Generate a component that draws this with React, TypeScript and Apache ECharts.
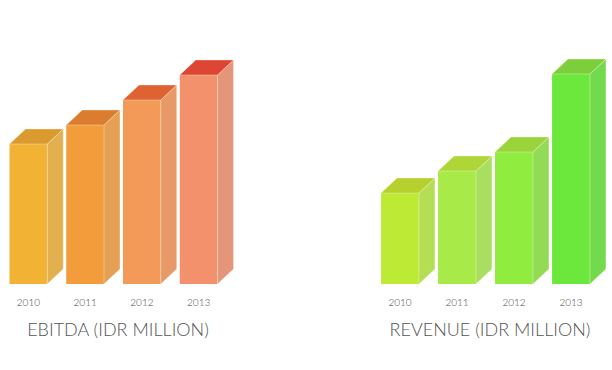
import React, { useEffect, useRef } from "react";
import * as echarts from "echarts";

const years = ["2010", "2011", "2012", "2013"];
const ebitda = [140, 159, 184, 209];
const revenue = [91, 113, 132, 210];

const ebitdaFront = ["#F2B335", "#F39C3B", "#F39A58", "#F3916C"];
const ebitdaSide = ["#E3B04F", "#E5A055", "#E79A67", "#E4957A"];
const ebitdaTop = ["#DB9A2E", "#DB7D31", "#DF6232", "#DE4535"];
const revenueFront = ["#BDEB35", "#A8EB48", "#90EC3E", "#6CE83C"];
const revenueSide = ["#B6DE55", "#A9DF60", "#92DC55", "#72DB4D"];
const revenueTop = ["#B6D02D", "#AED638", "#98D43A", "#7CCF3B"];

const titles = ["EBITDA (IDR MILLION)", "REVENUE (IDR MILLION)"];

function make3dRenderer(front: string[], side: string[], top: string[]) {
  return (params: any, api: any) => {
    const idx = params.dataIndex;
    const topPt = api.coord([api.value(0), api.value(1)]);
    const basePt = api.coord([api.value(0), 0]);
    const band = api.size([1, 0])[0];
    const w = band * 0.665;
    const dx = 16;
    const dy = -15;
    const x0 = topPt[0] - w / 2;
    const x1 = topPt[0] + w / 2;
    const yT = topPt[1];
    const yB = basePt[1];
    const edge = "rgba(255,248,225,0.45)";
    return {
      type: "group",
      children: [
        {
          type: "rect",
          shape: { x: x0, y: yT, width: w, height: yB - yT },
          style: { fill: front[idx] },
        },
        {
          type: "polygon",
          shape: {
            points: [
              [x1, yT],
              [x1 + dx, yT + dy],
              [x1 + dx, yB + dy],
              [x1, yB],
            ],
          },
          style: { fill: side[idx], stroke: edge, lineWidth: 0.8 },
        },
        {
          type: "polygon",
          shape: {
            points: [
              [x0, yT],
              [x0 + dx, yT + dy],
              [x1 + dx, yT + dy],
              [x1, yT],
            ],
          },
          style: { fill: top[idx], stroke: edge, lineWidth: 0.8 },
        },
      ],
    };
  };
}

export default function App() {
  const ref = useRef<HTMLDivElement>(null);
  useEffect(() => {
    if (!ref.current) return;
    const chart = echarts.init(ref.current, null, { renderer: "svg" });
    const grids = [
      { left: -1, width: 228, top: 34, bottom: 86 },
      { left: 371.5, width: 228, top: 34, bottom: 86 },
    ];
    const xAxis = [0, 1].map((i) => ({
      type: "category",
      gridIndex: i,
      data: years,
      axisLine: { show: false },
      axisTick: { show: false },
      axisLabel: {
        margin: 13,
        fontSize: 10,
        fontWeight: 300,
        color: "#4a4a4a",
        fontFamily: "Lato, 'Open Sans', sans-serif",
      },
    }));
    const yAxis = [0, 1].map((i) => ({
      type: "value",
      gridIndex: i,
      min: 0,
      max: 250,
      show: false,
      splitLine: { show: false },
    }));
    chart.setOption({
      animation: false,
      backgroundColor: "#ffffff",
      grid: grids,
      xAxis,
      yAxis,
      series: [
        {
          type: "custom",
          xAxisIndex: 0,
          yAxisIndex: 0,
          data: ebitda.map((v, i) => [i, v]),
          renderItem: make3dRenderer(ebitdaFront, ebitdaSide, ebitdaTop),
        },
        {
          type: "custom",
          xAxisIndex: 1,
          yAxisIndex: 1,
          data: revenue.map((v, i) => [i, v]),
          renderItem: make3dRenderer(revenueFront, revenueSide, revenueTop),
        },
      ],
      graphic: [
        {
          type: "text",
          x: 118,
          y: 329,
          style: {
            text: titles[0],
            fontSize: 18,
            fontWeight: 300,
            fontFamily: "Lato, 'Open Sans', sans-serif",
            fill: "#555",
            textAlign: "center",
            textVerticalAlign: "middle",
          },
        },
        {
          type: "text",
          x: 490,
          y: 329,
          style: {
            text: titles[1],
            fontSize: 18,
            fontWeight: 300,
            fontFamily: "Lato, 'Open Sans', sans-serif",
            fill: "#555",
            textAlign: "center",
            textVerticalAlign: "middle",
          },
        },
      ],
    });
    return () => chart.dispose();
  }, []);
  return (
    <div
      ref={ref}
      style={{ position: "fixed", left: 0, top: 0, width: 612, height: 370 }}
    />
  );
}
